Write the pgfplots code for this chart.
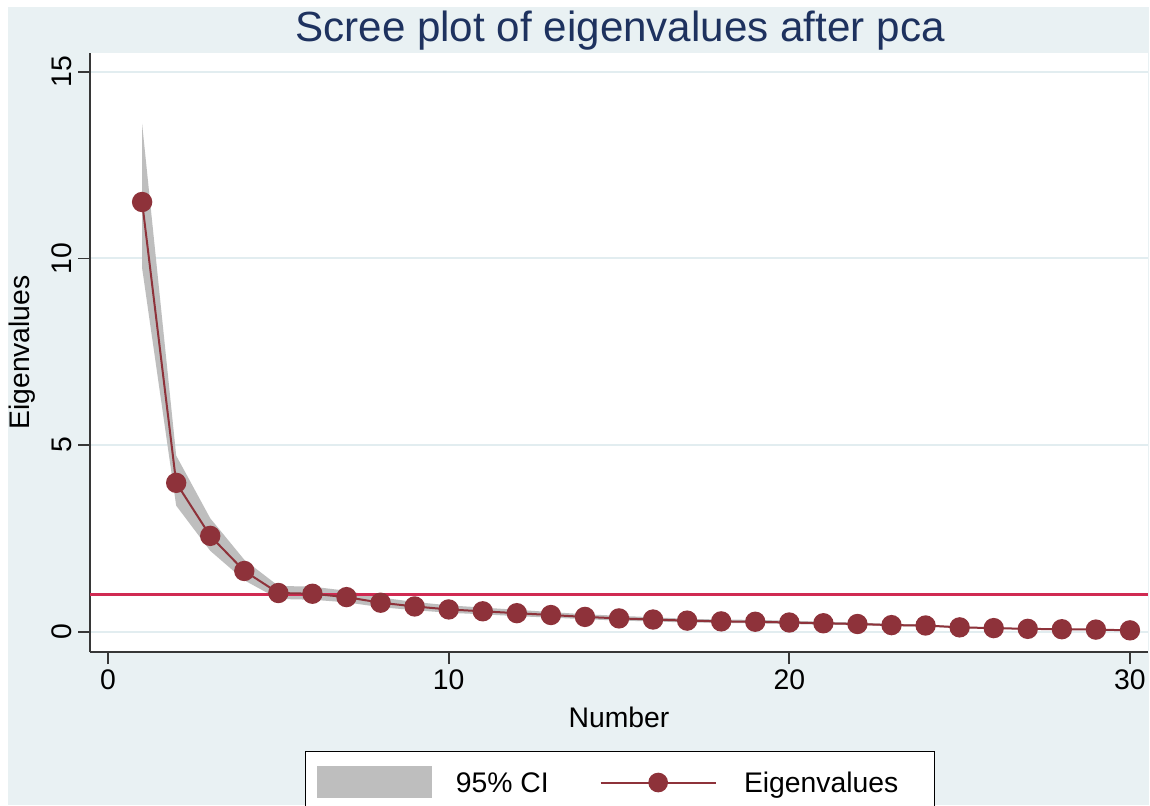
\documentclass[border=0pt]{standalone}
\usepackage{pgfplots}
\pgfplotsset{compat=1.18}
\usepackage{pgfplotstable}
\usepackage{fontspec}
\setmainfont{Liberation Sans}
\definecolor{bgc}{RGB}{233,241,243}
\definecolor{gridc}{RGB}{226,237,240}
\definecolor{marc}{RGB}{142,50,58}
\definecolor{refc}{RGB}{208,42,82}
\definecolor{cic}{RGB}{190,190,190}
\definecolor{titc}{RGB}{30,50,95}
\definecolor{axc}{RGB}{55,55,55}

\pgfplotstableread{
x ev
1 11.51
2 3.99
3 2.57
4 1.63
5 1.04
6 1.02
7 0.93
8 0.78
9 0.68
10 0.60
11 0.55
12 0.50
13 0.45
14 0.40
15 0.36
16 0.33
17 0.30
18 0.28
19 0.27
20 0.25
21 0.23
22 0.21
23 0.18
24 0.17
25 0.12
26 0.10
27 0.08
28 0.07
29 0.06
30 0.04
}\scree

% 95% CI band: upper bound for 1..30, then lower bound for 30..1
\pgfplotstableread{
x y
1 13.60
2 4.72
3 3.04
4 1.93
5 1.23
6 1.21
7 1.10
8 0.92
9 0.80
10 0.71
11 0.65
12 0.59
13 0.53
14 0.47
15 0.43
16 0.39
17 0.35
18 0.33
19 0.32
20 0.30
21 0.27
22 0.25
23 0.21
24 0.20
25 0.14
26 0.12
27 0.09
28 0.08
29 0.07
30 0.05
30 0.03
29 0.05
28 0.06
27 0.07
26 0.08
25 0.10
24 0.14
23 0.15
22 0.18
21 0.19
20 0.21
19 0.23
18 0.24
17 0.25
16 0.28
15 0.30
14 0.34
13 0.38
12 0.42
11 0.47
10 0.51
9 0.58
8 0.66
7 0.79
6 0.86
5 0.88
4 1.38
3 2.17
2 3.38
1 9.74
}\band

\begin{document}
\begin{tikzpicture}
\fill[white] (0,0) rectangle (690pt,483pt);
\fill[bgc] (4.8pt,0) rectangle (689.4pt,478.8pt);
\begin{scope}
\clip (0,0) rectangle (690pt,483pt);
\begin{axis}[
  at={(54pt,91.8pt)}, anchor=south west,
  scale only axis, width=634.8pt, height=359.4pt,
  xmin=-0.53, xmax=30.53, ymin=-0.54, ymax=15.5,
  axis background/.style={fill=white},
  axis x line*=bottom, axis y line*=left,
  axis line style={-, draw=axc, line width=1.1pt},
  xtick={0,10,20,30}, ytick={0,5,10,15},
  ymajorgrids, grid style={gridc, line width=1.2pt},
  tick align=outside, major tick length=7.2pt,
  tick style={axc, line width=1pt},
  /pgf/number format/assume math mode=true,
  ticklabel style={font=\fontsize{17}{20}\selectfont},
  yticklabel style={rotate=90, anchor=south},
  xlabel={Number}, ylabel={Eigenvalues},
  label style={font=\fontsize{17}{20}\selectfont},
  xlabel style={at={(axis description cs:0.5,-0.1085)}, anchor=center},
  ylabel style={at={(axis description cs:-0.0643,0.5)}, anchor=center},
  legend columns=2,
  legend cell align=left,
  legend style={at={(0.501,-0.1653)}, anchor=north, draw=black, fill=white,
    line width=0.8pt, font=\fontsize{17}{20}\selectfont,
    inner xsep=7pt, inner ysep=8.8pt,
    /tikz/every even column/.append style={column sep=28.6pt},
    /tikz/every odd column/.append style={column sep=12pt}},
]
\addplot[fill=cic, draw=none, legend image code/.code={\fill[cic] (0pt,-8.9pt) rectangle (69pt,10.3pt);}] table[x=x,y=y]{\band} -- cycle;
\addlegendentry{95\% CI}
\addplot[refc, line width=1.8pt, forget plot] coordinates {(-0.53,1) (30.53,1)};
\addplot[marc, line width=1.2pt, mark=*, mark size=5.5pt, mark options={fill=marc, draw=marc},
  legend image code/.code={\path[draw=none, fill=none] (0pt,-8.9pt) rectangle (72pt,10.3pt); \draw[marc, line width=1.2pt] (0pt,0.6pt) -- (69pt,0.6pt); \fill[marc] (34.5pt,0.6pt) circle (5.3pt);}]
  table[x=x,y=ev]{\scree};
\addlegendentry{Eigenvalues\kern12.6pt\relax}
\end{axis}
\end{scope}
\node[font=\fontsize{25.3}{30}\selectfont, text=titc, anchor=base] at (372pt,457.8pt) {Scree plot of eigenvalues after pca};
\pgfresetboundingbox
\useasboundingbox (0,0) rectangle (690pt,483pt);
\end{tikzpicture}
\end{document}
